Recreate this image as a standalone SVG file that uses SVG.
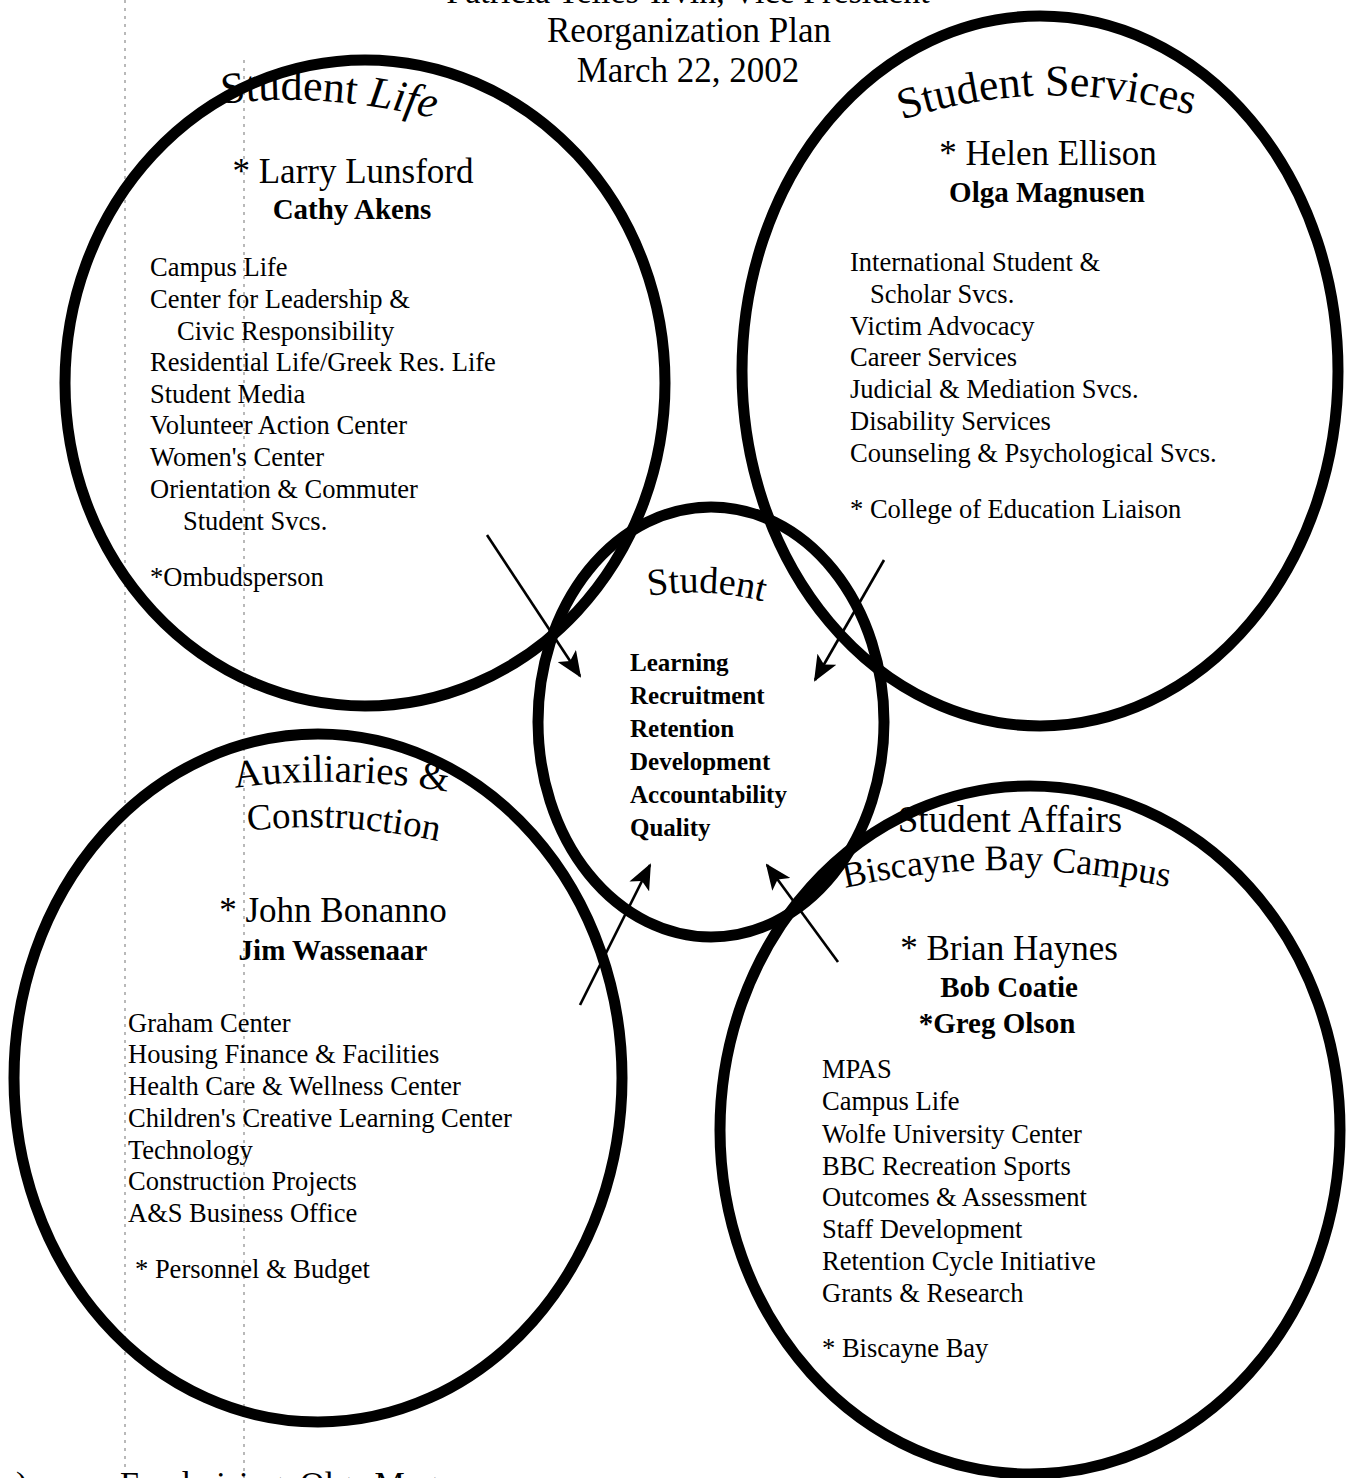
<svg xmlns="http://www.w3.org/2000/svg" width="1351" height="1478" viewBox="0 0 1351 1478">
<style>
.ring{fill:none;stroke:#000;stroke-width:11}
.t{font-family:"Liberation Serif","Times New Roman",serif;fill:#000}
.head{font-size:40px}
.name{font-size:35px}
.sub{font-size:29px;font-weight:bold}
.item{font-size:26.5px}
.goal{font-size:25px;font-weight:bold}
.title{font-size:34px}
.arrow{stroke:#000;stroke-width:2.6;fill:none;marker-end:url(#ah)}
.scan{stroke:#666;stroke-width:1.5;stroke-dasharray:3 5;fill:none;opacity:0.6}
</style>
<defs>
<marker id="ah" viewBox="0 0 26 22" refX="24" refY="11" markerWidth="26" markerHeight="22" markerUnits="userSpaceOnUse" orient="auto">
<path d="M0,0 L26,11 L0,22 L6,11 z" fill="#000"/>
</marker>
<path id="pSL" d="M 222 104 Q 330 90 456 124"/>
<path id="pSS" d="M 902 120 Q 1055 70 1216 122"/>
<path id="pST" d="M 648 596 Q 718 586 778 606"/>
<path id="pAX1" d="M 235 788 Q 345 773 462 794"/>
<path id="pAX2" d="M 248 831 Q 340 820 442 842"/>
<path id="pBB" d="M 845 888 Q 1000 852 1172 888"/>
</defs>

<g id="scan-artifacts">
<line class="scan" x1="125" y1="0" x2="125" y2="1470"/>
<line class="scan" x1="244" y1="60" x2="244" y2="1478"/>
</g>

<g id="title" class="t">
<text class="title" x="688" y="3" text-anchor="middle">Patricia Telles-Irvin, Vice President</text>
<text class="title" x="689" y="42" text-anchor="middle" style="font-size:35px">Reorganization Plan</text>
<text class="title" x="688" y="82" text-anchor="middle" style="font-size:35px">March 22, 2002</text>
</g>

<g id="student-life">
<ellipse class="ring" cx="365" cy="383" rx="300" ry="323"/>
<text class="t head" style="font-size:44px"><textPath href="#pSL">Student <tspan font-style="italic">Life</tspan></textPath></text>
<text class="t name" x="353" y="183" text-anchor="middle">* Larry Lunsford</text>
<text class="t sub" x="352" y="219" text-anchor="middle">Cathy Akens</text>
<text class="t item" x="150" y="276">Campus Life</text>
<text class="t item" x="150" y="308">Center for Leadership &amp;</text>
<text class="t item" x="177" y="340">Civic Responsibility</text>
<text class="t item" x="150" y="371">Residential Life/Greek Res. Life</text>
<text class="t item" x="150" y="403">Student Media</text>
<text class="t item" x="150" y="434">Volunteer Action Center</text>
<text class="t item" x="150" y="466">Women's Center</text>
<text class="t item" x="150" y="498">Orientation &amp; Commuter</text>
<text class="t item" x="183" y="530">Student Svcs.</text>
<text class="t item" x="150" y="586">*Ombudsperson</text>
</g>

<g id="student-services">
<ellipse class="ring" cx="1040" cy="371" rx="298" ry="355"/>
<text class="t head" style="font-size:44px"><textPath href="#pSS">Student Services</textPath></text>
<text class="t name" x="1048" y="165" text-anchor="middle">* Helen Ellison</text>
<text class="t sub" x="1047" y="202" text-anchor="middle">Olga Magnusen</text>
<text class="t item" x="850" y="271">International Student &amp;</text>
<text class="t item" x="870" y="303">Scholar Svcs.</text>
<text class="t item" x="850" y="335">Victim Advocacy</text>
<text class="t item" x="850" y="366">Career Services</text>
<text class="t item" x="850" y="398">Judicial &amp; Mediation Svcs.</text>
<text class="t item" x="850" y="430">Disability Services</text>
<text class="t item" x="850" y="462">Counseling &amp; Psychological Svcs.</text>
<text class="t item" x="850" y="518">* College of Education Liaison</text>
</g>

<g id="auxiliaries">
<ellipse class="ring" cx="318" cy="1078" rx="304" ry="344"/>
<text class="t head" style="font-size:39px"><textPath href="#pAX1">Auxiliaries &amp;</textPath></text>
<text class="t head" style="font-size:37px"><textPath href="#pAX2">Construction</textPath></text>
<text class="t name" x="333" y="922" text-anchor="middle">* John Bonanno</text>
<text class="t sub" x="333" y="960" text-anchor="middle">Jim Wassenaar</text>
<text class="t item" x="128" y="1032">Graham Center</text>
<text class="t item" x="128" y="1063">Housing Finance &amp; Facilities</text>
<text class="t item" x="128" y="1095">Health Care &amp; Wellness Center</text>
<text class="t item" x="128" y="1127">Children's Creative Learning Center</text>
<text class="t item" x="128" y="1159">Technology</text>
<text class="t item" x="128" y="1190">Construction Projects</text>
<text class="t item" x="128" y="1222">A&amp;S Business Office</text>
<text class="t item" x="135" y="1278">* Personnel &amp; Budget</text>
</g>

<g id="biscayne-bay">
<ellipse class="ring" cx="1030" cy="1130" rx="310" ry="344"/>
<text class="t head" style="font-size:37px" x="1010" y="832" text-anchor="middle">Student Affairs</text>
<text class="t head" style="font-size:36px"><textPath href="#pBB">Biscayne Bay Campus</textPath></text>
<text class="t name" x="1009" y="960" text-anchor="middle">* Brian Haynes</text>
<text class="t sub" x="1009" y="997" text-anchor="middle">Bob Coatie</text>
<text class="t sub" x="997" y="1033" text-anchor="middle">*Greg Olson</text>
<text class="t item" x="822" y="1078">MPAS</text>
<text class="t item" x="822" y="1110">Campus Life</text>
<text class="t item" x="822" y="1143">Wolfe University Center</text>
<text class="t item" x="822" y="1175">BBC Recreation Sports</text>
<text class="t item" x="822" y="1206">Outcomes &amp; Assessment</text>
<text class="t item" x="822" y="1238">Staff Development</text>
<text class="t item" x="822" y="1270">Retention Cycle Initiative</text>
<text class="t item" x="822" y="1302">Grants &amp; Research</text>
<text class="t item" x="822" y="1357">* Biscayne Bay</text>
</g>

<g id="student">
<ellipse class="ring" cx="711" cy="722" rx="173" ry="215"/>
<text class="t head" style="font-size:38px"><textPath href="#pST">Student</textPath></text>
<text class="t goal" x="630" y="671">Learning</text>
<text class="t goal" x="630" y="704">Recruitment</text>
<text class="t goal" x="630" y="737">Retention</text>
<text class="t goal" x="630" y="770">Development</text>
<text class="t goal" x="630" y="803">Accountability</text>
<text class="t goal" x="630" y="836">Quality</text>
</g>

<g id="connectors">
<line class="arrow" x1="487" y1="535" x2="580" y2="676"/>
<line class="arrow" x1="884" y1="560" x2="815" y2="680"/>
<line class="arrow" x1="580" y1="1005" x2="650" y2="865"/>
<line class="arrow" x1="838" y1="962" x2="767" y2="865"/>
</g>

<g id="footer" class="t">
<text class="title" x="16" y="1495">)</text>
<text class="title" x="120" y="1495">Fundraising</text>
<text class="title" x="300" y="1495">Olga Magnusen</text>
</g>
</svg>
